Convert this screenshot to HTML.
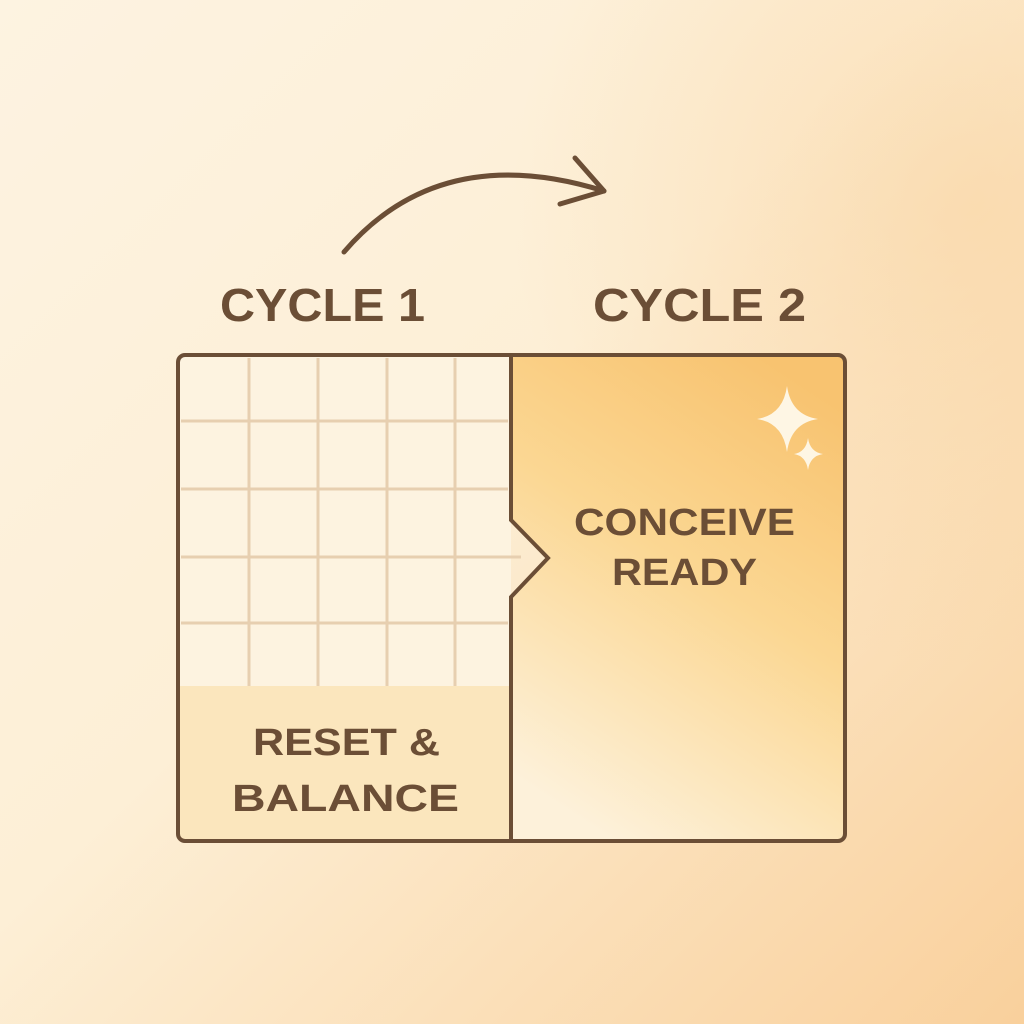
<!DOCTYPE html>
<html><head><style>html,body{margin:0;padding:0}body{width:1024px;height:1024px;overflow:hidden}</style></head><body>
<svg width="1024" height="1024" viewBox="0 0 1024 1024" xmlns="http://www.w3.org/2000/svg">
<defs>
<linearGradient id="bg" x1="0" y1="0" x2="1" y2="1">
<stop offset="0" stop-color="#fdf3e1"/><stop offset="0.45" stop-color="#fdefd6"/><stop offset="1" stop-color="#f9d09c"/>
</linearGradient>
<radialGradient id="bg2" cx="0.95" cy="0.2" r="0.45"><stop offset="0" stop-color="#f8cf98" stop-opacity="0.5"/><stop offset="1" stop-color="#f8cf98" stop-opacity="0"/></radialGradient>
<linearGradient id="rp" x1="0.75" y1="0" x2="0.3" y2="1">
<stop offset="0" stop-color="#f8c370"/><stop offset="0.45" stop-color="#fbd793"/><stop offset="1" stop-color="#fdf1da"/>
</linearGradient>
</defs>
<rect width="1024" height="1024" fill="url(#bg)"/>
<rect width="1024" height="1024" fill="url(#bg2)"/>
<path d="M344 252 Q440 140 604 191" fill="none" stroke="#6b4e36" stroke-width="5" stroke-linecap="round"/>
<path d="M575 158 L604 191 L560 204" fill="none" stroke="#6b4e36" stroke-width="5" stroke-linecap="round" stroke-linejoin="round"/>
<g font-family="Liberation Sans, sans-serif" font-weight="bold" fill="#6b4e36" font-size="46">
<text x="220" y="321" textLength="205" lengthAdjust="spacingAndGlyphs">CYCLE 1</text>
<text x="593" y="321" textLength="213" lengthAdjust="spacingAndGlyphs">CYCLE 2</text>
</g>
<rect x="179" y="356" width="332" height="484" fill="#fdf3e0"/>
<rect x="179" y="686" width="332" height="154" fill="#fbe6bd"/>
<path d="M511 356 H840 Q844 356 844 360 V836 Q844 840 840 840 H511 V597 L548 558 L511 520 Z" fill="url(#rp)"/>
<g stroke="#e7cfb0" stroke-width="3">
<line x1="249" y1="358" x2="249" y2="686"/><line x1="318" y1="358" x2="318" y2="686"/>
<line x1="387" y1="358" x2="387" y2="686"/><line x1="455" y1="358" x2="455" y2="686"/>
<line x1="181" y1="421" x2="508" y2="421"/><line x1="181" y1="489" x2="508" y2="489"/>
<line x1="181" y1="557" x2="521" y2="557"/><line x1="181" y1="623" x2="508" y2="623"/>
</g>
<rect x="178" y="355" width="667" height="486" rx="7" fill="none" stroke="#6b4e36" stroke-width="4"/>
<path d="M511 356 V520 L548 558 L511 597 V840" fill="none" stroke="#6b4e36" stroke-width="4" stroke-linejoin="miter"/>
<path d="M787 386 Q791 415 818 419 Q791 423 787 452 Q783 423 757 419 Q783 415 787 386Z" fill="#fef6e4"/>
<path d="M808 438 Q810 452 823 454 Q810 456 808 470 Q806 456 794 454 Q806 452 808 438Z" fill="#fef6e4"/>
<g font-family="Liberation Sans, sans-serif" font-weight="bold" fill="#6b4e36" font-size="38">
<text x="574" y="535" textLength="221" lengthAdjust="spacingAndGlyphs">CONCEIVE</text>
<text x="612" y="585" textLength="145" lengthAdjust="spacingAndGlyphs">READY</text>
<text x="253" y="755" textLength="187" lengthAdjust="spacingAndGlyphs">RESET &amp;</text>
<text x="232" y="811" textLength="227" lengthAdjust="spacingAndGlyphs">BALANCE</text>
</g>
</svg>
</body></html>
